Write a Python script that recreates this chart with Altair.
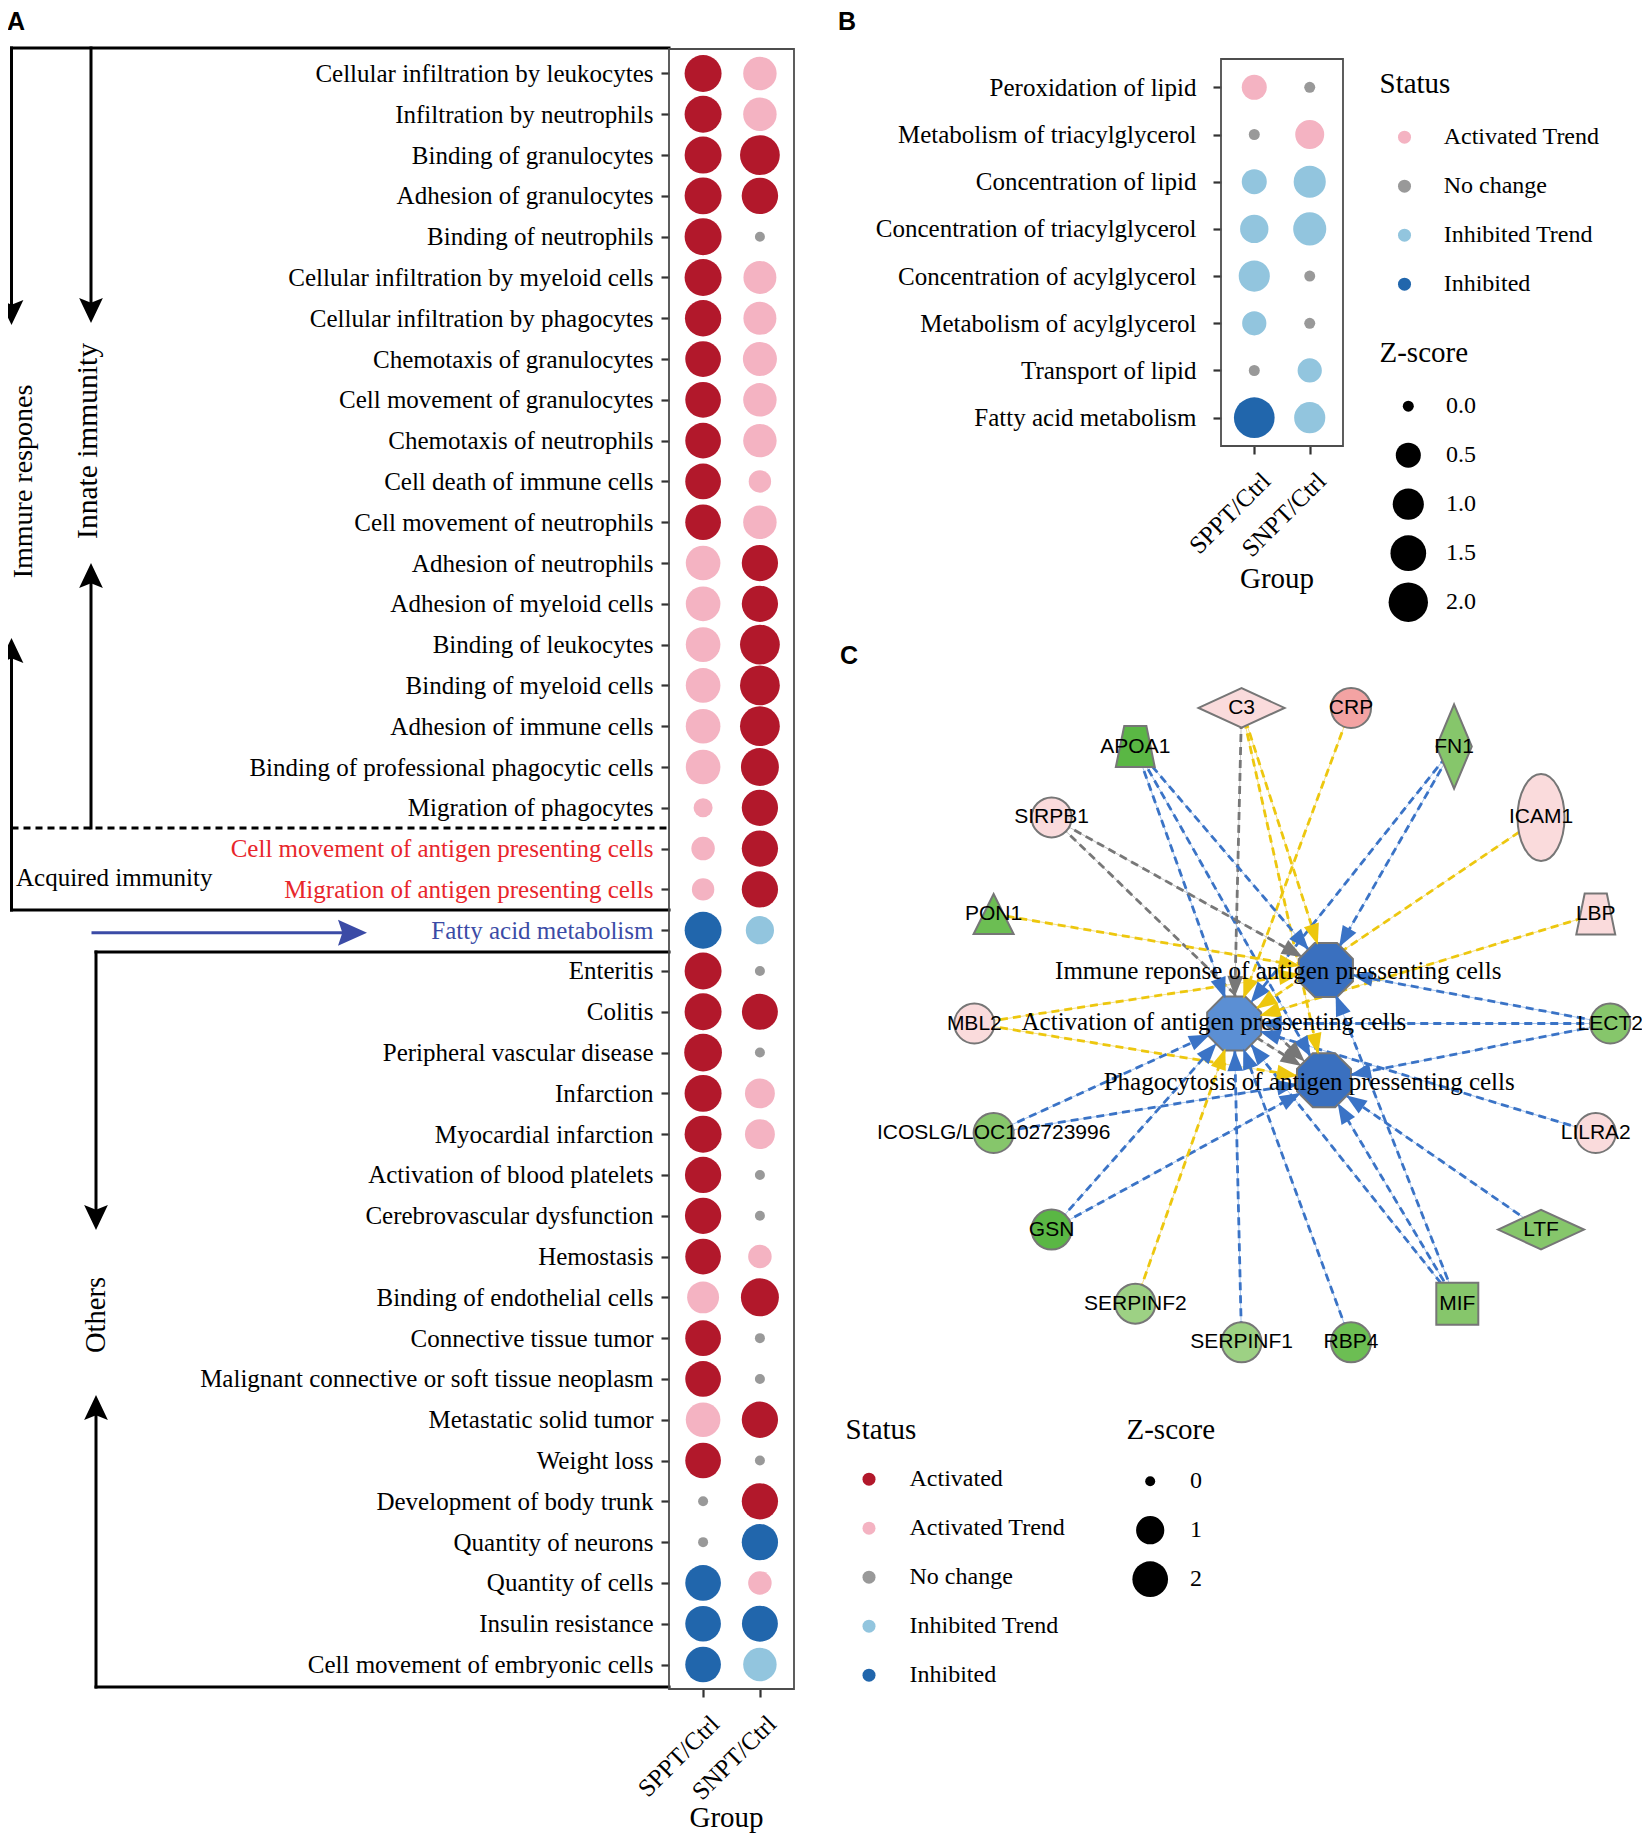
import altair as alt
import pandas as pd

W, H = 1634, 1826
SERIF = "Liberation Serif"
SANS = "Liberation Sans"


def P(v):
    # page pixel -> canvas pixel (8px page margin, zero padding)
    return v - 8


# ---------------- data: panel A ----------------
GROUPS = ["SPPT/Ctrl", "SNPT/Ctrl"]
STATUS_NAMES = {"A": "Activated", "AT": "Activated Trend", "N": "No change",
                "IT": "Inhibited Trend", "I": "Inhibited"}
STATUS_ALL = ["Activated", "Activated Trend", "No change", "Inhibited Trend", "Inhibited"]
STATUS_COLORS = ["#B2182B", "#F4B3C2", "#999999", "#92C5DE", "#2166AC"]

A_TERMS = [
    "Cellular infiltration by leukocytes", "Infiltration by neutrophils", "Binding of granulocytes",
    "Adhesion of granulocytes", "Binding of neutrophils", "Cellular infiltration by myeloid cells",
    "Cellular infiltration by phagocytes", "Chemotaxis of granulocytes", "Cell movement of granulocytes",
    "Chemotaxis of neutrophils", "Cell death of immune cells", "Cell movement of neutrophils",
    "Adhesion of neutrophils", "Adhesion of myeloid cells", "Binding of leukocytes",
    "Binding of myeloid cells", "Adhesion of immune cells", "Binding of professional phagocytic cells",
    "Migration of phagocytes", "Cell movement of antigen presenting cells",
    "Migration of antigen presenting cells", "Fatty acid metabolism", "Enteritis", "Colitis",
    "Peripheral vascular disease", "Infarction", "Myocardial infarction", "Activation of blood platelets",
    "Cerebrovascular dysfunction", "Hemostasis", "Binding of endothelial cells", "Connective tissue tumor",
    "Malignant connective or soft tissue neoplasm", "Metastatic solid tumor", "Weight loss",
    "Development of body trunk", "Quantity of neurons", "Quantity of cells", "Insulin resistance",
    "Cell movement of embryonic cells",
]
A_SPPT_STATUS = ["A", "A", "A", "A", "A", "A", "A", "A", "A", "A", "A", "A",
                 "AT", "AT", "AT", "AT", "AT", "AT", "AT", "AT", "AT", "I",
                 "A", "A", "A", "A", "A", "A", "A", "A", "AT", "A", "A", "AT", "A",
                 "N", "N", "I", "I", "I"]
A_SPPT_Z = [2.22, 2.22, 2.22, 2.22, 2.22, 2.22, 2.10, 2.00, 2.00, 2.00, 2.00, 2.00,
            1.84, 1.84, 1.84, 1.84, 1.84, 1.84, 0.27, 0.56, 0.48, 2.20,
            2.22, 2.22, 2.35, 2.22, 2.22, 2.10, 2.10, 2.00, 1.45, 2.00, 2.00, 1.84, 2.00,
            0.0, 0.0, 2.00, 2.00, 2.00]
A_SNPT_STATUS = ["AT", "AT", "A", "A", "N", "AT", "AT", "AT", "AT", "AT", "AT", "AT",
                 "A", "A", "A", "A", "A", "A", "A", "A", "A", "IT",
                 "N", "A", "N", "AT", "AT", "N", "N", "AT", "A", "N", "N", "A", "N",
                 "A", "I", "AT", "I", "IT"]
A_SNPT_Z = [1.66, 1.66, 2.74, 2.13, 0.0, 1.59, 1.59, 1.75, 1.66, 1.66, 0.48, 1.66,
            2.10, 2.10, 2.74, 2.74, 2.74, 2.40, 2.10, 2.10, 2.10, 1.00,
            0.0, 2.05, 0.0, 1.19, 1.19, 0.0, 0.0, 0.56, 2.40, 0.0, 0.0, 2.10, 0.0,
            2.10, 2.10, 0.56, 2.05, 1.66]
A_RED_LABELS = ["Cell movement of antigen presenting cells", "Migration of antigen presenting cells"]
A_BLUE_LABELS = ["Fatty acid metabolism"]

# ---------------- data: panel B ----------------
B_TERMS = ["Peroxidation of lipid", "Metabolism of triacylglycerol", "Concentration of lipid",
           "Concentration of triacylglycerol", "Concentration of acylglycerol",
           "Metabolism of acylglycerol", "Transport of lipid", "Fatty acid metabolism"]
B_SPPT_STATUS = ["AT", "N", "IT", "IT", "IT", "IT", "N", "I"]
B_SPPT_Z = [0.50, 0.0, 0.50, 0.75, 1.00, 0.45, 0.0, 2.20]
B_SNPT_STATUS = ["N", "AT", "IT", "IT", "N", "N", "IT", "IT"]
B_SNPT_Z = [0.0, 0.80, 1.10, 1.20, 0.0, 0.0, 0.45, 1.00]
B_STATUS = ["Activated Trend", "No change", "Inhibited Trend", "Inhibited"]
B_COLORS = ["#F4B3C2", "#999999", "#92C5DE", "#2166AC"]

# ---------------- data: panel C (network, circular layout units) ----------------
NET_NODES = ["C3", "CRP", "APOA1", "FN1", "SIRPB1", "ICAM1", "PON1", "LBP", "MBL2", "LECT2",
             "ICOSLG/LOC102723996", "LILRA2", "GSN", "LTF", "SERPINF2", "MIF", "SERPINF1", "RBP4"]
NET_X = [-0.17, 0.17, -0.50, 0.49, -0.76, 0.76, -0.94, 0.93, -1.00, 0.975,
         -0.94, 0.93, -0.76, 0.76, -0.50, 0.50, -0.17, 0.17]
NET_Y = [0.98, 0.98, 0.86, 0.86, 0.64, 0.64, 0.34, 0.34, 0.00, 0.00,
         -0.34, -0.34, -0.64, -0.64, -0.87, -0.87, -0.99, -0.99]
NET_TYPE = ["peptidase", "other", "transporter", "enzyme", "other", "receptor", "phosphatase",
            "transporter", "other", "other", "other", "other", "other", "peptidase", "other",
            "cytokine", "other", "other"]
NET_LEVEL = ["up1", "up2", "down4", "down2", "up1", "up1", "down3", "up1", "up1", "down2",
             "down2", "up1", "down4", "down2", "down1", "down2", "down1", "down3"]

FUNC_ID = ["IMM", "ACT", "PHA"]
FUNC_NAME = ["Immune reponse of antigen pressenting cells",
             "Activation of antigen pressenting cells",
             "Phagocytosis of antigen pressenting cells"]
FUNC_X = [0.092, -0.193, 0.086]
FUNC_Y = [0.166, 0.000, -0.176]
FUNC_LEVEL = ["inh2", "inh1", "inh2"]
FUNC_LABEL_X = [-0.056, -0.256, 0.040]
FUNC_LABEL_Y = [0.164, 0.004, -0.182]

EDGE_SRC = ["C3", "C3", "C3", "CRP", "APOA1", "APOA1", "APOA1", "FN1", "FN1", "SIRPB1", "SIRPB1",
            "ICAM1", "PON1", "LBP", "MBL2", "MBL2", "LECT2", "LECT2", "LECT2",
            "ICOSLG/LOC102723996", "ICOSLG/LOC102723996", "LILRA2", "GSN", "GSN", "LTF",
            "SERPINF2", "SERPINF1", "RBP4", "MIF", "MIF", "MIF", "ACT"]
EDGE_TGT = ["ACT", "IMM", "PHA", "ACT", "IMM", "ACT", "PHA", "IMM", "ACT", "IMM", "PHA",
            "ACT", "IMM", "ACT", "IMM", "PHA", "IMM", "ACT", "PHA",
            "ACT", "PHA", "ACT", "ACT", "PHA", "PHA",
            "ACT", "ACT", "ACT", "IMM", "ACT", "PHA", "PHA"]
EDGE_KIND = ["unpredicted", "inconsistent", "inconsistent", "inconsistent", "inhibit", "inhibit",
             "inhibit", "inhibit", "inhibit", "unpredicted", "unpredicted", "inconsistent",
             "inconsistent", "inconsistent", "inconsistent", "inconsistent", "inhibit", "inhibit",
             "inhibit", "inhibit", "inhibit", "inhibit", "inhibit", "inhibit", "inhibit",
             "inconsistent", "inhibit", "inhibit", "inhibit", "inhibit", "inhibit", "unpredicted"]

# ---------------- styles ----------------
EDGE_KINDS = ["inhibit", "inconsistent", "unpredicted"]
EDGE_COLORS = ["#3A73C6", "#EDC70E", "#777777"]
EDGE_THIN = ["#A8C6EE", "#F4E08C", "#C4C4C4"]
LEVELS = ["up1", "up2", "down1", "down2", "down3", "down4", "inh1", "inh2"]
LEVEL_COLORS = ["#FADBDC", "#F3A3A3", "#9DD184", "#86C66B", "#6CBE53", "#5AB744", "#5B8FD4", "#3A70BF"]
NODE_SHAPES = {
    "other": ("circle", 1600),
    "peptidase": ("M-1,0L0,-0.46L1,0L0,0.46Z", 7400),
    "enzyme": ("M0,-1L0.42,0L0,1L-0.42,0Z", 7100),
    "transporter": ("M-0.54,-1L0.54,-1L0.95,1L-0.95,1Z", 1681),
    "receptor": ("M0,-1A0.54,1 0 1,1 0,1A0.54,1 0 1,1 0,-1Z", 7569),
    "phosphatase": ("M0,-1L1,1L-1,1Z", 1600),
    "cytokine": ("square", 1764),
    "function": ("M-0.414,-1L0.414,-1L1,-0.414L1,0.414L0.414,1L-0.414,1L-1,0.414L-1,-0.414Z", 2916),
}
ARROW_NET = "M0,-1L0.75,1L-0.75,1Z"
HEAD = "M0,-1L0.95,1L0,0.62L-0.95,1Z"
HEAD_B = "M0,-1L0.9,1L0,0.7L-0.9,1Z"
ABLUE = "#3B4BA6"
ARED = "#E8262B"

# ---------------- tables ----------------
rowsA = []
for i, t in enumerate(A_TERMS):
    rowsA.append({"term": t, "group": GROUPS[0], "status": STATUS_NAMES[A_SPPT_STATUS[i]], "z": A_SPPT_Z[i]})
    rowsA.append({"term": t, "group": GROUPS[1], "status": STATUS_NAMES[A_SNPT_STATUS[i]], "z": A_SNPT_Z[i]})
dfA = pd.DataFrame(rowsA)

rowsB = []
for i, t in enumerate(B_TERMS):
    rowsB.append({"term": t, "group": GROUPS[0], "status": STATUS_NAMES[B_SPPT_STATUS[i]], "z": B_SPPT_Z[i]})
    rowsB.append({"term": t, "group": GROUPS[1], "status": STATUS_NAMES[B_SNPT_STATUS[i]], "z": B_SNPT_Z[i]})
dfB = pd.DataFrame(rowsB)

ndf = pd.DataFrame({"id": NET_NODES + FUNC_ID, "x": NET_X + FUNC_X, "y": NET_Y + FUNC_Y,
                    "kind": NET_TYPE + ["function"] * 3, "level": NET_LEVEL + FUNC_LEVEL,
                    "label": NET_NODES + [""] * 3})
fdf = pd.DataFrame({"name": FUNC_NAME, "x": FUNC_LABEL_X, "y": FUNC_LABEL_Y})
pos = {r.id: (r.x, r.y) for r in ndf.itertuples()}
edf = pd.DataFrame({"src": EDGE_SRC, "tgt": EDGE_TGT, "kind": EDGE_KIND})
edf["sx"] = [pos[s][0] for s in EDGE_SRC]
edf["sy"] = [pos[s][1] for s in EDGE_SRC]
edf["tx"] = [pos[t][0] for t in EDGE_TGT]
edf["ty"] = [pos[t][1] for t in EDGE_TGT]

one = pd.DataFrame({"k": [0]})


# ---------------- helpers for decorations ----------------
def rule(x1, y1, x2, y2, color="black", width=3.0, dash=None):
    kw = dict(color=color, strokeWidth=width, strokeCap="square")
    if dash:
        kw["strokeDash"] = dash
        kw["strokeCap"] = "butt"
    return alt.Chart(one).mark_rule(**kw).encode(
        x=alt.value(P(x1)), y=alt.value(P(y1)), x2=alt.value(P(x2)), y2=alt.value(P(y2)))


def head(x, y, angle, color="black", size=625, shape=HEAD):
    return alt.Chart(one).mark_point(shape=shape, size=size, angle=angle, filled=True, opacity=1,
                                     color=color, strokeWidth=0).encode(
        x=alt.value(P(x)), y=alt.value(P(y)))


def text(x, y, s, size, angle=0, align="center", color="black", font=SERIF, weight="normal"):
    return alt.Chart(one).mark_text(text=s, fontSize=size, angle=angle, align=align, baseline="middle",
                                    color=color, font=font, fontWeight=weight).encode(
        x=alt.value(P(x)), y=alt.value(P(y)))


def box(x1, y1, x2, y2):
    return alt.Chart(one).mark_rect(fillOpacity=0, stroke="#4D4D4D", strokeWidth=1.8).encode(
        x=alt.value(P(x1)), y=alt.value(P(y1)), x2=alt.value(P(x2)), y2=alt.value(P(y2)))


layers = []

# ---------------- panel A brackets ----------------
layers += [
    rule(11.5, 48, 669, 48),
    rule(11.5, 48, 11.5, 314), head(11.5, 312.5, 180),
    rule(91, 48, 91, 312), head(91, 310.5, 180),
    text(24, 481.5, "Immure respones", 28, angle=270),
    text(88, 441, "Innate immunity", 29.5, angle=270),
    rule(11.5, 652, 11.5, 910), head(11.5, 650.5, 0),
    rule(91, 577, 91, 828), head(91, 575.5, 0),
    rule(11.5, 828, 669, 828, dash=[7, 5]),
    text(16, 878, "Acquired immunity", 25, align="left"),
    rule(11.5, 910, 669, 910),
    rule(93, 932.7, 345, 932.7, color=ABLUE, width=3), head(352.5, 932.7, 90, color=ABLUE, size=841, shape=HEAD_B),
    rule(96, 952, 669, 952),
    rule(96, 952, 96, 1219), head(96, 1217.5, 180),
    text(96, 1315, "Others", 28.5, angle=270),
    rule(96, 1409, 96, 1687), head(96, 1407.5, 0),
    rule(96, 1687, 669, 1687),
]

# ---------------- panel boxes ----------------
layers += [box(669, 49, 794, 1689), box(1221, 59, 1343, 446)]

label_color_expr = (
    "indexof(%s, datum.value) >= 0 ? '%s' : (indexof(%s, datum.value) >= 0 ? '%s' : 'black')"
    % (str(A_RED_LABELS), ARED, str(A_BLUE_LABELS), ABLUE)
)


def y_axis(offset, pad, color=None):
    kw = dict(orient="left", offset=offset, title=None, domain=False, grid=False, ticks=True,
              tickSize=8, tickWidth=2.2, tickColor="#333333", labelFont=SERIF, labelFontSize=25,
              labelPadding=pad, labelLimit=2000, labelColor="black")
    if color is not None:
        kw["labelColor"] = color
    return alt.Axis(**kw)


def x_axis(offset, title_x, title_y):
    return alt.Axis(orient="bottom", offset=offset, title="Group", domain=False, grid=False,
                    tickSize=8, tickWidth=2.2, tickColor="#333333", labelFont=SERIF, labelFontSize=25,
                    labelColor="black", labelAngle=315, labelAlign="right", labelBaseline="top",
                    labelOffset=3, labelPadding=14, labelLimit=2000,
                    titleFont=SERIF, titleFontSize=29, titleFontWeight="normal", titleColor="black",
                    titleX=title_x, titleY=title_y, titleBaseline="middle", titleAlign="center")


def status_legend(x, y, tpad, sym_off, lab_off):
    return alt.Legend(orient="none", legendX=x, legendY=y, title="Status", padding=0,
                      titleFont=SERIF, titleFontSize=29, titleFontWeight="normal", titleColor="black",
                      titlePadding=tpad, labelFont=SERIF, labelFontSize=24, labelColor="black",
                      labelLimit=1000, symbolType="circle", symbolSize=169, symbolStrokeWidth=0,
                      symbolOpacity=1, clipHeight=48.4, rowPadding=0, symbolOffset=sym_off,
                      labelOffset=lab_off, direction="vertical")


def z_legend(x, y, tpad, values, fmt, sym_off, lab_off):
    return alt.Legend(orient="none", legendX=x, legendY=y, title="Z-score", padding=0,
                      titleFont=SERIF, titleFontSize=29, titleFontWeight="normal", titleColor="black",
                      titlePadding=tpad, labelFont=SERIF, labelFontSize=24, labelColor="black",
                      values=values, format=fmt, symbolType="circle", symbolFillColor="black",
                      symbolStrokeColor="black", symbolStrokeWidth=0, symbolOpacity=1,
                      clipHeight=48.4, rowPadding=0, symbolOffset=sym_off, labelOffset=lab_off,
                      direction="vertical")


# ---------------- panel A dots ----------------
dotsA = alt.Chart(dfA).mark_circle(opacity=1).encode(
    x=alt.X("group:N", scale=alt.Scale(type="point", domain=GROUPS, range=[P(669), P(794)], padding=0.6),
            axis=x_axis(P(1689) - H, P(726), 128)),
    y=alt.Y("term:N", scale=alt.Scale(type="point", domain=A_TERMS, range=[P(49), P(1689)], padding=0.6),
            axis=y_axis(-P(669), 8, {"expr": label_color_expr})),
    color=alt.Color("status:N", scale=alt.Scale(domain=STATUS_ALL, range=STATUS_COLORS),
                    legend=status_legend(P(845.5), P(1430) - 14, 10, 11.5, 28.5)),
    size=alt.Size("z:Q", scale=alt.Scale(type="pow", exponent=0.75, domain=[0, 2.74], range=[100, 1584]),
                  legend=z_legend(P(1126.5), P(1430) - 14, 12, [0, 1, 2], "d", 5.7, 21.9)),
)

# ---------------- panel B dots ----------------
dotsB = alt.Chart(dfB).mark_circle(opacity=1).encode(
    x=alt.X("group:N", scale=alt.Scale(type="point", domain=GROUPS, range=[P(1221), P(1343)], padding=0.6),
            axis=x_axis(P(446) - H, P(1276.5), 132.5)),
    y=alt.Y("term:N", scale=alt.Scale(type="point", domain=B_TERMS, range=[P(59), P(446)], padding=0.6),
            axis=y_axis(-P(1221), 17)),
    color=alt.Color("status:N", scale=alt.Scale(domain=B_STATUS, range=B_COLORS),
                    legend=status_legend(P(1379.5), P(84) - 14, 14, 13, 27.2)),
    size=alt.Size("z:Q", scale=alt.Scale(type="pow", exponent=0.75, domain=[0, 2.2], range=[121, 1656]),
                  legend=z_legend(P(1379.5), P(352.5) - 14, 14.5, [0, 0.5, 1, 1.5, 2], ".1f", 8.8, 17.7)),
)
layers += [dotsA, dotsB]

# ---------------- panel C network ----------------
net_x = alt.Scale(domain=[-1.2, 1.2], range=[P(909.9), P(1682.7)], zero=False, nice=False)
net_y = alt.Scale(domain=[-1.2, 1.2], range=[P(1409.9), P(637.1)], zero=False, nice=False)
kind_color = alt.Scale(domain=EDGE_KINDS, range=EDGE_COLORS)

edge_thin = alt.Chart(edf).mark_rule(strokeWidth=1).encode(
    x=alt.X("sx:Q", scale=net_x, axis=None), y=alt.Y("sy:Q", scale=net_y, axis=None),
    x2="tx:Q", y2="ty:Q",
    stroke=alt.Stroke("kind:N", scale=alt.Scale(domain=EDGE_KINDS, range=EDGE_THIN), legend=None))
edge_dash = alt.Chart(edf).mark_rule(strokeWidth=2.8, strokeDash=[8, 5]).encode(
    x=alt.X("sx:Q", scale=net_x, axis=None), y=alt.Y("sy:Q", scale=net_y, axis=None),
    x2="tx:Q", y2="ty:Q",
    color=alt.Color("kind:N", scale=kind_color, legend=None))

net_layers = [edge_thin, edge_dash]
for kind, (shape, size) in NODE_SHAPES.items():
    net_layers.append(
        alt.Chart(ndf).transform_filter(alt.datum.kind == kind).mark_point(
            shape=shape, size=size, filled=True, opacity=1, stroke="#767676", strokeWidth=2).encode(
            x=alt.X("x:Q", scale=net_x, axis=None), y=alt.Y("y:Q", scale=net_y, axis=None),
            fill=alt.Fill("level:N", scale=alt.Scale(domain=LEVELS, range=LEVEL_COLORS), legend=None)))

arrows = alt.Chart(edf).transform_calculate(
    dx="datum.tx - datum.sx", dy="datum.ty - datum.sy"
).transform_calculate(
    L="sqrt(datum.dx*datum.dx + datum.dy*datum.dy)"
).transform_calculate(
    ax="datum.tx - 0.115*datum.dx/datum.L", ay="datum.ty - 0.115*datum.dy/datum.L",
    ang="(atan2(datum.dx, datum.dy)*180/PI + 360) % 360"
).mark_point(shape=ARROW_NET, size=440, filled=True, opacity=1, strokeWidth=0).encode(
    x=alt.X("ax:Q", scale=net_x, axis=None), y=alt.Y("ay:Q", scale=net_y, axis=None),
    angle=alt.Angle("ang:Q", scale=None),
    color=alt.Color("kind:N", scale=kind_color, legend=None))
net_layers.append(arrows)

node_text = alt.Chart(ndf).transform_filter(alt.datum.kind != "function").mark_text(
    font=SANS, fontSize=21, color="black", align="center", baseline="middle").encode(
    x=alt.X("x:Q", scale=net_x, axis=None), y=alt.Y("y:Q", scale=net_y, axis=None), text="label:N")
func_text = alt.Chart(fdf).mark_text(
    font=SERIF, fontSize=25, color="black", align="center", baseline="middle").encode(
    x=alt.X("x:Q", scale=net_x, axis=None), y=alt.Y("y:Q", scale=net_y, axis=None), text="name:N")
net_layers += [node_text, func_text]

layers.append(alt.layer(*net_layers))

# ---------------- panel letters ----------------
layers += [
    text(16, 22, "A", 25, font=SANS, weight="bold"),
    text(847, 22, "B", 25, font=SANS, weight="bold"),
    text(849, 656, "C", 25, font=SANS, weight="bold"),
]

chart = alt.layer(*layers).resolve_scale(
    x="independent", y="independent", color="independent", size="independent",
    fill="independent", stroke="independent"
).properties(
    width=W, height=H, padding=0, autosize=alt.AutoSizeParams(type="none")
).configure_view(stroke=None)

chart.save("out.html", embed_options={"renderer": "svg", "actions": False})
